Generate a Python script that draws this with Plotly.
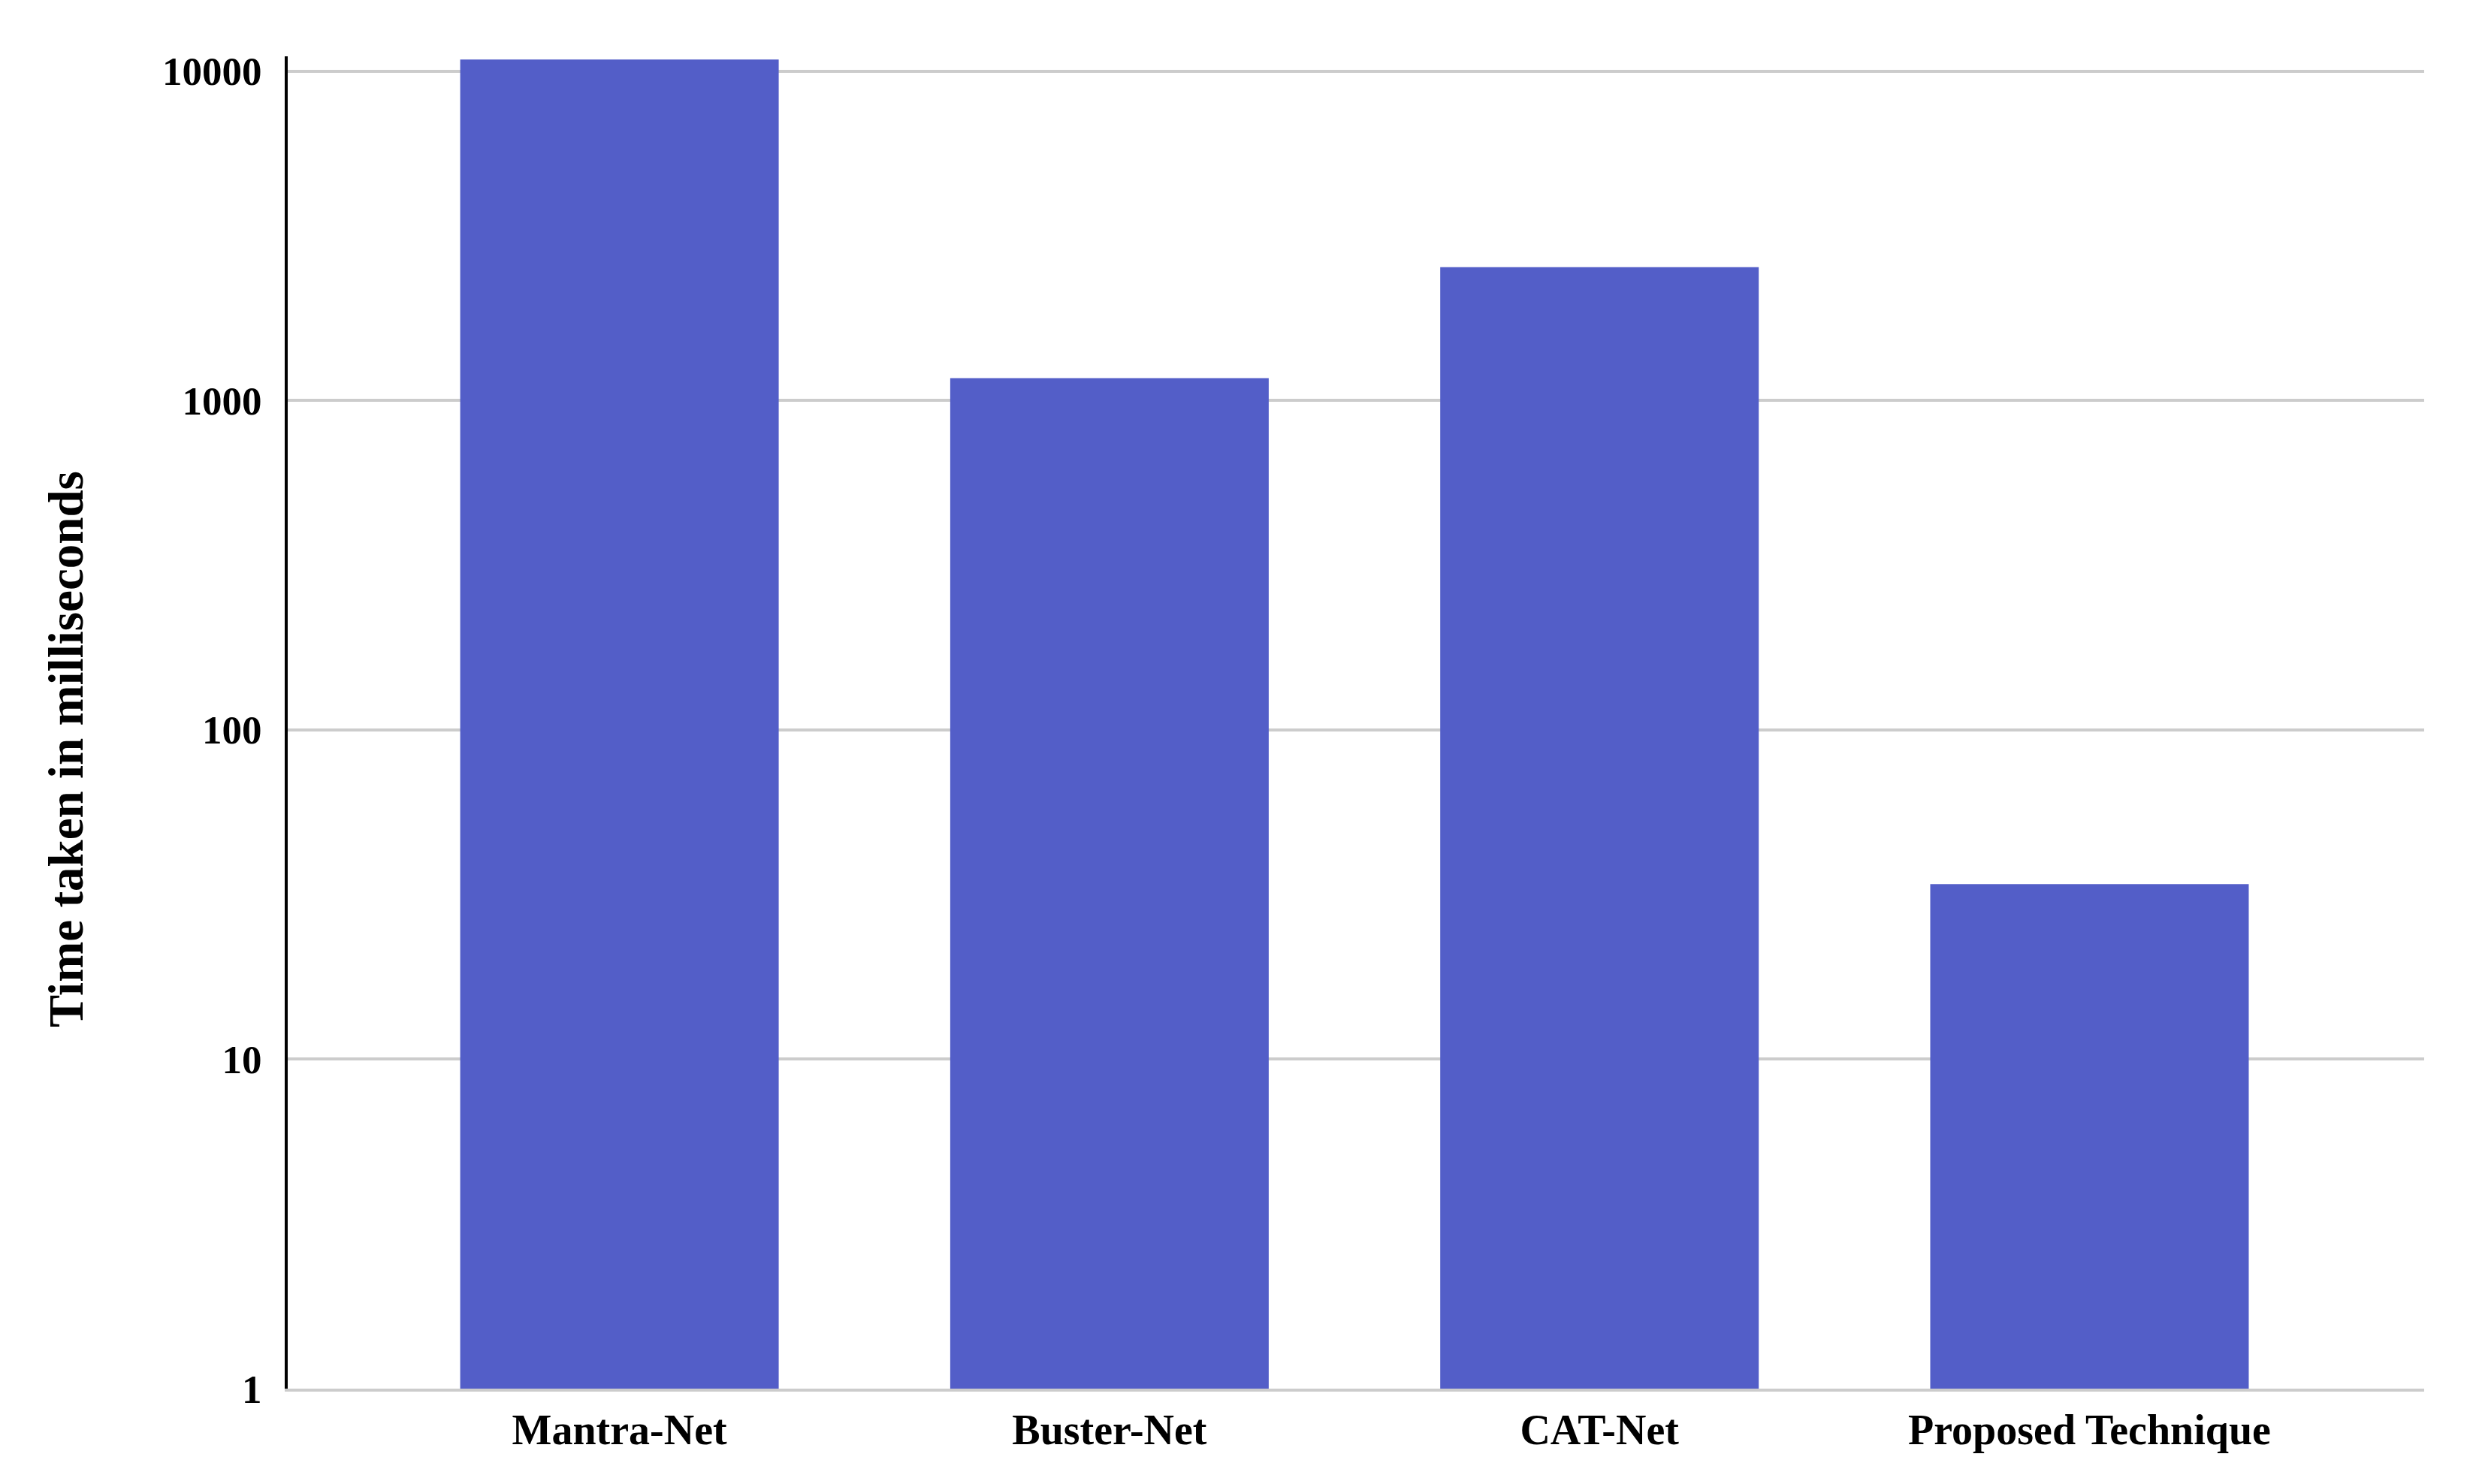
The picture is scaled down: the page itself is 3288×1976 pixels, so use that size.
import plotly.graph_objects as go

# Inference time per method (ms)
methods = ['Mantra-Net', 'Buster-Net', 'CAT-Net', 'Proposed Technique']
time_ms = [10850, 1170, 2540, 34]

tick_vals = [1, 10, 100, 1000, 10000]
tick_text = ['1', '10', '100', '1000', '10000']

font_family = 'Liberation Serif'

fig = go.Figure()
fig.add_trace(go.Bar(
    x=methods,
    y=time_ms,
    marker=dict(color='#535EC8', line=dict(width=0)),
    width=0.65,
))

fig.update_layout(
    width=3288,
    height=1976,
    plot_bgcolor='white',
    paper_bgcolor='white',
    showlegend=False,
    margin=dict(l=375, r=69, t=67, b=135),
    font=dict(family=font_family, color='#000000'),
    xaxis=dict(
        range=[-0.677, 3.683],
        showgrid=False,
        showline=True,
        linecolor='#CCCCCC',
        linewidth=4,
        ticks='',
        tickfont=dict(family=font_family, size=56, color='#000000', weight='bold'),
        ticklabelstandoff=3,
    ),
    yaxis=dict(
        type='log',
        range=[0, 4.045],
        tickvals=tick_vals,
        ticktext=tick_text,
        showgrid=True,
        gridcolor='#CCCCCC',
        gridwidth=4,
        showline=True,
        linecolor='#000000',
        linewidth=4,
        ticks='',
        zeroline=False,
        tickfont=dict(family=font_family, size=53, color='#000000', weight='bold'),
        ticklabelstandoff=20,
        automargin=False,
    ),
)

# y-axis title as an annotation so it can sit slightly below the plot centre
fig.add_annotation(
    text='Time taken in milliseconds',
    xref='paper', yref='paper',
    x=-0.1037, y=0.4797,
    xanchor='center', yanchor='middle',
    textangle=-90,
    showarrow=False,
    font=dict(family=font_family, size=65, color='#000000', weight='bold'),
)

fig.write_html("out.html")
